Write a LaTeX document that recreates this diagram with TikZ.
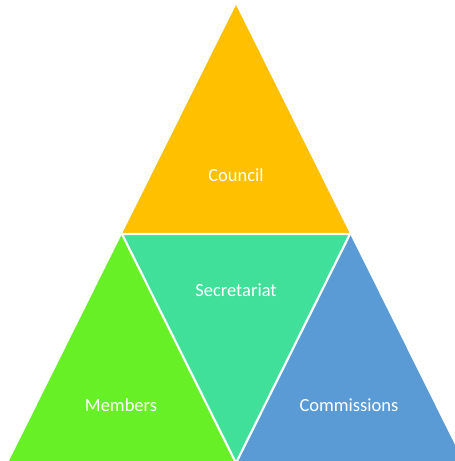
\documentclass[tikz,border=0pt]{standalone}
\usepackage{fontspec}
\setmainfont{Carlito}
\definecolor{council}{HTML}{FFC000}
\definecolor{secr}{HTML}{40E09B}
\definecolor{memb}{HTML}{67F025}
\definecolor{comm}{HTML}{5B9BD5}
\begin{document}
\begin{tikzpicture}[x=1pt,y=-1pt,
  piece/.style={draw=white,line width=2.2pt,line join=miter},
  lbl/.style={text=white,font=\fontsize{18.5}{21}\selectfont,anchor=base,inner sep=0pt}]
\useasboundingbox (0,0) rectangle (455,461);
\clip (0,0) rectangle (455,461);
\coordinate (A) at (236,5);
\coordinate (L) at (122,234);
\coordinate (R) at (350,234);
\coordinate (BL) at (8,463);
\coordinate (BM) at (236,463);
\coordinate (BR) at (464,463);
\fill[council] (A) -- (L) -- (R) -- cycle;
\fill[secr] (L) -- (R) -- (BM) -- cycle;
\fill[memb] (L) -- (BL) -- (BM) -- cycle;
\fill[comm] (R) -- (BM) -- (BR) -- cycle;
\draw[piece] (L) -- (R) -- (BM) -- cycle;
\node[lbl] (council) at (236,181) {Council};
\node[lbl] (secretariat) at (236,296) {Secretariat};
\node[lbl] (members) at (121,411) {Members};
\node[lbl] (commissions) at (349,411) {Commissions};
\end{tikzpicture}
\end{document}
